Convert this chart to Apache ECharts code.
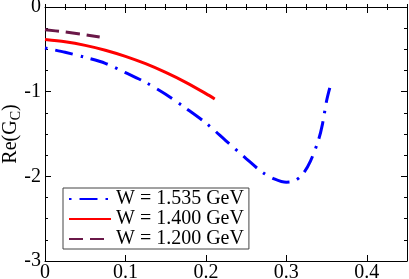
<!DOCTYPE html>
<html><head><meta charset="utf-8">
<script src="https://cdn.jsdelivr.net/npm/echarts@6/dist/echarts.min.js"></script>
<style>html,body{margin:0;padding:0;background:#fff}#c{width:409px;height:279px}</style>
</head><body><div id="c"></div>
<script>
const seriesNames = ['W = 1.535 GeV', 'W = 1.400 GeV', 'W = 1.200 GeV'];
const x1535 = [0, 0.025, 0.05, 0.075, 0.1, 0.125, 0.15, 0.175, 0.2, 0.225, 0.25, 0.27, 0.285, 0.3, 0.31, 0.32, 0.33, 0.34, 0.345, 0.35, 0.354];
const y1535 = [-0.484, -0.535, -0.595, -0.665, -0.775, -0.89, -1.03, -1.195, -1.37, -1.58, -1.79, -1.95, -2.03, -2.07, -2.055, -1.98, -1.82, -1.57, -1.38, -1.11, -0.955];
const x1400 = [0, 0.025, 0.05, 0.075, 0.1, 0.125, 0.15, 0.175, 0.2, 0.211];
const y1400 = [-0.383, -0.41, -0.453, -0.51, -0.583, -0.67, -0.773, -0.89, -1.023, -1.086];
const x1200 = [0, 0.023, 0.046, 0.068];
const y1200 = [-0.268, -0.293, -0.322, -0.354];
const xTickLabels = [0, 0.1, 0.2, 0.3, 0.4];
const yTickLabels = [0, -1, -2, -3];

const pair = (xs, ys) => xs.map((x, i) => [x, ys[i]]);
const FF = 'Liberation Serif';
const xBase = {type: 'value', min: 0, max: 0.45, splitLine: {show: false}, axisLine: {show: true, onZero: false, lineStyle: {color: '#000', width: 1}}};
const yBase = {type: 'value', min: -3, max: 0, interval: 1, splitLine: {show: false}, axisLine: {show: true, onZero: false, lineStyle: {color: '#000', width: 1}}};

const chart = echarts.init(document.getElementById('c'), null, {renderer: 'canvas'});
chart.setOption({
  animation: false,
  backgroundColor: '#fff',
  grid: {left: 45, right: 2, top: 7, bottom: 18, containLabel: false, outerBoundsMode: 'none'},
  legend: {
    orient: 'vertical', left: 63, top: 188,
    data: seriesNames,
    itemWidth: 42, itemHeight: 12, itemGap: 0,
    padding: [1, 5, 0, 5],
    itemStyle: {opacity: 0},
    backgroundColor: '#fff', borderColor: '#444', borderWidth: 1,
    textStyle: {fontFamily: FF, fontSize: 20, color: '#000', lineHeight: 18, padding: [0, 0, 0, 0]}
  },
  xAxis: [
    Object.assign({}, xBase, {position: 'bottom', interval: 0.1,
      axisTick: {inside: true, length: 6, lineStyle: {color: '#000'}},
      axisLabel: {fontFamily: FF, fontSize: 20, color: '#000', margin: 2, customValues: xTickLabels}}),
    Object.assign({}, xBase, {position: 'bottom', interval: 0.025,
      axisLine: {show: false}, axisTick: {inside: true, length: 3, lineStyle: {color: '#000'}}, axisLabel: {show: false}}),
    Object.assign({}, xBase, {position: 'top', interval: 0.1,
      axisTick: {inside: true, length: 6, lineStyle: {color: '#000'}}, axisLabel: {show: false}}),
    Object.assign({}, xBase, {position: 'top', interval: 0.025,
      axisLine: {show: false}, axisTick: {inside: true, length: 3, lineStyle: {color: '#000'}}, axisLabel: {show: false}})
  ],
  yAxis: [
    Object.assign({}, yBase, {position: 'left',
      axisTick: {inside: true, length: 6, lineStyle: {color: '#000'}},
      minorTick: {show: true, splitNumber: 4, length: 3, lineStyle: {color: '#000'}},
      axisLabel: {fontFamily: FF, fontSize: 20, color: '#000', margin: 4, customValues: yTickLabels},
      name: '{a|Re(G}{b|C}{a|)}', nameLocation: 'middle', nameRotate: 90, nameGap: 22, nameMoveOverlap: false,
      nameTextStyle: {fontFamily: FF, color: '#000', rich: {
        a: {fontFamily: FF, fontSize: 20, color: '#000', lineHeight: 24},
        b: {fontFamily: FF, fontSize: 14, color: '#000', lineHeight: 24, verticalAlign: 'bottom', padding: [10, 0, 0, 0]}
      }}}),
    Object.assign({}, yBase, {position: 'right',
      axisTick: {inside: true, length: 6, lineStyle: {color: '#000'}},
      minorTick: {show: true, splitNumber: 4, length: 3, lineStyle: {color: '#000'}},
      axisLabel: {show: false}})
  ],
  series: [
    {name: seriesNames[0], type: 'line', data: pair(x1535, y1535), smooth: 0.3, symbol: 'none',
     lineStyle: {color: '#0000ff', width: 3, type: [2.5, 8, 18, 8]}, itemStyle: {color: '#0000ff'}},
    {name: seriesNames[1], type: 'line', data: pair(x1400, y1400), smooth: 0.3, symbol: 'none',
     lineStyle: {color: '#ff0000', width: 3, type: 'solid'}, itemStyle: {color: '#ff0000'}},
    {name: seriesNames[2], type: 'line', data: pair(x1200, y1200), smooth: 0.3, symbol: 'none',
     lineStyle: {color: '#6a1848', width: 3, type: [14, 7]}, itemStyle: {color: '#6a1848'}}
  ]
});
</script></body></html>
